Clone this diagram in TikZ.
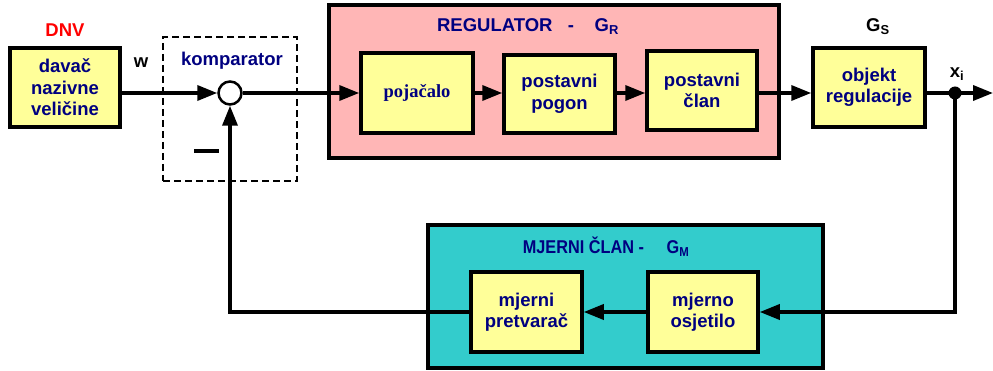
\documentclass[tikz,border=0pt]{standalone}
\usepackage{fontspec}
\setmainfont{Liberation Sans}
\newfontfamily\serifbf{Liberation Serif}
\usetikzlibrary{arrows.meta}
\definecolor{navy}{HTML}{000080}
\definecolor{boxyellow}{HTML}{FFFF99}
\definecolor{regpink}{HTML}{FFB6B6}
\definecolor{mjteal}{HTML}{33CCCC}
\begin{document}
\begin{tikzpicture}[x=1pt,y=-1pt,
  txt/.style={font=\fontsize{18.5}{21.5}\selectfont\bfseries, text=navy, align=center},
  blk/.style={txt, draw, line width=3.5pt, fill=boxyellow, inner sep=0pt},
  grp/.style={draw, line width=3.5pt},
  conn/.style={line width=3.5pt, -{Triangle[length=20pt,width=15pt]}},
  wire/.style={line width=3.5pt}]
\useasboundingbox (0,0) rectangle (993,371);
% group boxes
\node[grp, fill=regpink, minimum width=450pt, minimum height=153pt] (reg) at (554,81.5) {};
\node[grp, fill=mjteal, minimum width=395pt, minimum height=143pt] (mj) at (625.5,296.5) {};
\node[draw, line width=2.2pt, dash pattern=on 7pt off 4pt, minimum width=134pt, minimum height=144pt] (komp) at (230,109) {};
% labels
\node[txt, text=red] (dnvl) at (65,30) {DNV};
\node[txt, text=black] (wl) at (141,63) {w};
\node[txt] (kompl) at (232,61) {komparator};
\node[txt] (regl) at (528,27) {REGULATOR\ \ \ -\ \ \ \ G\textsubscript{R}};
\node[txt, text=black] (gsl) at (878,27) {G\textsubscript{S}};
\node[txt, text=black] (xil) at (957,74) {x\textsubscript{i}};
\node[txt] (mjl) at (606,247) {\scalebox{0.88}[1]{MJERNI ČLAN -\ \ \ \ \ G\textsubscript{M}}};
\node[fill, minimum width=25pt, minimum height=4.5pt, inner sep=0pt] (minus) at (206,151) {};
% blocks
\node[blk, minimum width=110pt, minimum height=79pt] (dnv) at (65,87.5) {davač\\nazivne\\veličine};
\node[draw, line width=2.5pt, fill=white, circle, minimum size=23pt, inner sep=0pt] (c) at (230,93) {};
\node[blk, minimum width=112pt, minimum height=80pt, font=\fontsize{18.5}{21.5}\selectfont\serifbf\bfseries] (poj) at (417,93) {pojačalo};
\node[blk, minimum width=111pt, minimum height=78pt] (pog) at (559.5,94) {postavni\\pogon};
\node[blk, minimum width=110pt, minimum height=79pt] (clan) at (702,90.5) {postavni\\član};
\node[blk, minimum width=112pt, minimum height=79pt] (obj) at (869,87.5) {objekt\\regulacije};
\node[blk, minimum width=111pt, minimum height=80pt] (pret) at (526.5,312) {mjerni\\pretvarač};
\node[blk, minimum width=110pt, minimum height=80pt] (osj) at (703,312) {mjerno\\osjetilo};
\node[fill, circle, minimum size=13pt, inner sep=0pt] (dot) at (955,93) {};
\coordinate (out) at (993,93);
% connectors
\draw[conn] (dnv.east |- c) -- (c.west);
\draw[conn] (c.east) -- (c -| poj.west);
\draw[conn] (poj.east |- c) -- (c -| pog.west);
\draw[conn] (pog.east |- c) -- (c -| clan.west);
\draw[conn] (clan.east |- c) -- (c -| obj.west);
\draw[wire] (obj.east |- dot) -- (dot.center);
\draw[conn] (dot.center) -- (out);
\draw[conn] (dot.center) |- (osj.east);
\draw[conn] (osj.west) -- (pret.east);
\draw[conn] (pret.west) -| (c.south);
\end{tikzpicture}
\end{document}
